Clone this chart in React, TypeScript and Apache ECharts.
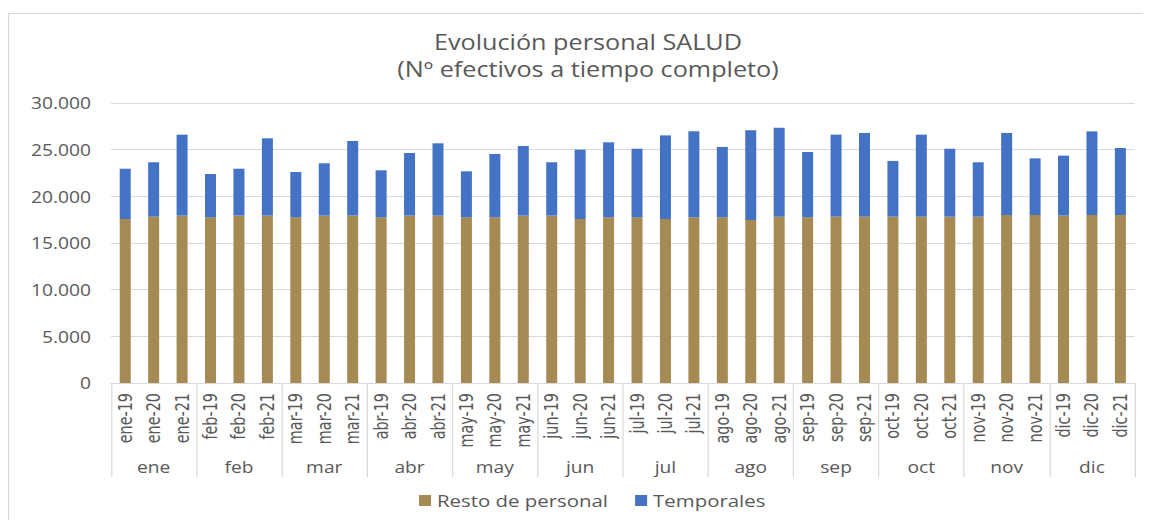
import React, { useEffect, useRef } from "react";
import * as echarts from "echarts";

const categories = [
  "ene-19", "ene-20", "ene-21", "feb-19", "feb-20", "feb-21",
  "mar-19", "mar-20", "mar-21", "abr-19", "abr-20", "abr-21",
  "may-19", "may-20", "may-21", "jun-19", "jun-20", "jun-21",
  "jul-19", "jul-20", "jul-21", "ago-19", "ago-20", "ago-21",
  "sep-19", "sep-20", "sep-21", "oct-19", "oct-20", "oct-21",
  "nov-19", "nov-20", "nov-21", "dic-19", "dic-20", "dic-21",
];
const months = ["ene", "feb", "mar", "abr", "may", "jun", "jul", "ago", "sep", "oct", "nov", "dic"];

const restoPersonal = [
  17570, 17820, 17930, 17750, 17930, 17930,
  17750, 17930, 17930, 17750, 17930, 17930,
  17750, 17750, 17930, 17930, 17570, 17750,
  17750, 17570, 17750, 17750, 17460, 17820,
  17750, 17820, 17820, 17820, 17820, 17820,
  17820, 18000, 18000, 17930, 18000, 18000,
];
const temporales = [
  5390, 5830, 8680, 4640, 5030, 8290,
  4860, 5610, 8000, 5040, 6710, 7750,
  4930, 6790, 7460, 5720, 7430, 8040,
  7350, 8960, 9210, 7540, 9610, 9540,
  7000, 8790, 8970, 5970, 8790, 7280,
  5830, 8790, 6070, 6430, 8960, 7180,
];
const yTicks = { min: 0, max: 30000, interval: 5000 };

const TEXT = "#595959";
const GRID = "#d9d9d9";
const FONT = "'Open Sans', 'Noto Sans', sans-serif";
const NARROW = "'Liberation Sans Narrow', 'DejaVu Sans Condensed', sans-serif";

// the reference image is horizontally stretched; lay out narrower and stretch
const SX = 1.2;
const W = 1143 / SX;
const H = 512;

export default function App() {
  const ref = useRef<HTMLDivElement>(null);
  useEffect(() => {
    if (!ref.current) return;
    const chart = echarts.init(ref.current, undefined, { renderer: "svg" });
    chart.setOption({
      animation: false,
      graphic: [
        {
          type: "rect",
          shape: { x: 0.4, y: 5.5, width: 1200, height: 600 },
          style: { fill: "none", stroke: GRID, lineWidth: 1 },
          silent: true,
        },
        {
          type: "text",
          x: 580 / SX,
          y: 34,
          style: {
            text: "Evolución personal SALUD",
            fill: TEXT,
            font: `21px ${FONT}`,
            align: "center",
            verticalAlign: "middle",
          },
        },
        {
          type: "text",
          x: 580 / SX,
          y: 61,
          style: {
            text: "(Nº efectivos a tiempo completo)",
            fill: TEXT,
            font: `21px ${FONT}`,
            align: "center",
            verticalAlign: "middle",
          },
        },
      ],
      legend: {
        left: 405 / SX,
        top: 479,
        itemWidth: 10,
        itemHeight: 11,
        itemGap: 27 / SX,
        icon: "rect",
        textStyle: { color: TEXT, fontSize: 17, fontFamily: FONT },
        data: ["Resto de personal", "Temporales"],
      },
      grid: { left: 103 / SX, right: 17 / SX, top: 95, bottom: 137 },
      xAxis: [
        {
          type: "category",
          data: categories,
          axisLine: { show: true, lineStyle: { color: GRID } },
          axisTick: { show: false },
          axisLabel: {
            interval: 0,
            rotate: 90,
            margin: 10,
            color: TEXT,
            fontSize: 16,
            fontFamily: NARROW,
          },
        },
        {
          type: "category",
          data: months,
          position: "bottom",
          axisLine: { show: false },
          axisTick: { show: true, length: 94, interval: 0, lineStyle: { color: GRID } },
          axisLabel: {
            interval: 0,
            margin: 76,
            color: TEXT,
            fontSize: 16,
            fontFamily: FONT,
          },
        },
      ],
      yAxis: {
        type: "value",
        min: yTicks.min,
        max: yTicks.max,
        interval: yTicks.interval,
        axisLine: { show: false },
        axisTick: { show: false },
        splitLine: { lineStyle: { color: GRID } },
        axisLabel: {
          margin: 20 / SX,
          color: TEXT,
          fontSize: 16,
          fontFamily: FONT,
          formatter: (v: number) => (v === 0 ? "0" : v.toLocaleString("de-DE")),
        },
      },
      series: [
        {
          name: "Resto de personal",
          type: "bar",
          stack: "total",
          barWidth: 11 / SX,
          itemStyle: { color: "#A68A54" },
          data: restoPersonal,
        },
        {
          name: "Temporales",
          type: "bar",
          stack: "total",
          barWidth: 11 / SX,
          itemStyle: { color: "#4472C4" },
          data: temporales,
        },
      ],
    });
    return () => chart.dispose();
  }, []);
  return (
    <div
      ref={ref}
      style={{ width: W, height: H, transform: `scaleX(${SX})`, transformOrigin: "0 0" }}
    />
  );
}
